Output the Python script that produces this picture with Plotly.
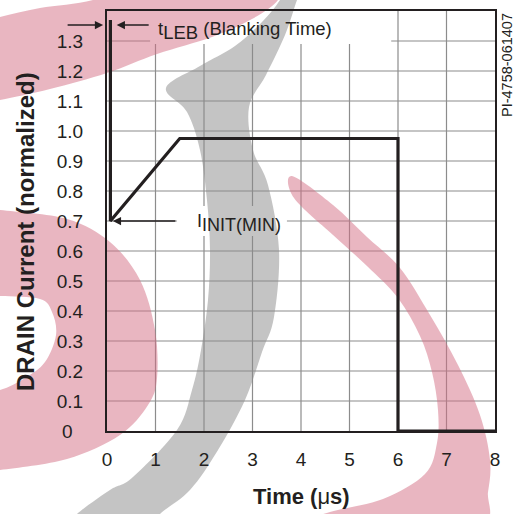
import plotly.graph_objects as go

# ---------------- data ----------------
time_us = [0.07, 0.07, 1.5, 6.0, 6.0, 8.0]
drain_norm = [1.37, 0.70, 0.975, 0.975, 0.0, 0.0]

x_ticks = [0, 1, 2, 3, 4, 5, 6, 7, 8]
x_tick_labels = ["0", "1", "2", "3", "4", "5", "6", "7", "8"]
y_ticks = [0, 0.1, 0.2, 0.3, 0.4, 0.5, 0.6, 0.7, 0.8, 0.9, 1.0, 1.1, 1.2, 1.3]
y_tick_labels = ["0", "0.1", "0.2", "0.3", "0.4", "0.5", "0.6", "0.7", "0.8",
                 "0.9", "1.0", "1.1", "1.2", "1.3"]

t_leb_start = 0.0
t_leb_end = 0.07
i_init_min = 0.70

X_RANGE = [0, 8]
Y_RANGE = [0, 1.4]

# ---------------- layout geometry ----------------
W, H = 514, 514
ML, MR, MT, MB = 107, 19, 11, 83
PW = W - ML - MR
PH = H - MT - MB

FONT = "Liberation Sans, Arial, Helvetica, sans-serif"
INK = "#231f20"
GRID = "#8c8c8c"


def to_paper(pts):
    return [((x - ML) / PW, (MT + PH - y) / PH) for x, y in pts]


def smooth_path(pts):
    p = to_paper(pts)
    n = len(p)
    s = "M %.4f %.4f" % p[0]
    for i in range(n):
        p0, p1, p2, p3 = p[i - 1], p[i], p[(i + 1) % n], p[(i + 2) % n]
        c1 = (p1[0] + (p2[0] - p0[0]) / 6, p1[1] + (p2[1] - p0[1]) / 6)
        c2 = (p2[0] - (p3[0] - p1[0]) / 6, p2[1] - (p3[1] - p1[1]) / 6)
        s += " C %.4f %.4f %.4f %.4f %.4f %.4f" % (c1 + c2 + p2)
    return s + " Z"


def px_(x):
    return (x - X_RANGE[0]) / (X_RANGE[1] - X_RANGE[0])


def py_(y):
    return (y - Y_RANGE[0]) / (Y_RANGE[1] - Y_RANGE[0])


# watermark outlines (pixel space of the page)
pink_top = [(-30, 25), (0, 17), (40, 8), (93, 0), (140, -20), (280, -20), (278, 0),
            (252, 19), (212, 37), (157, 54), (107, 73), (50, 89), (0, 100), (-30, 106)]
pink_left = [(-30, 207), (0, 210), (67, 219), (110, 242), (140, 280), (155, 330),
             (157, 378), (148, 405), (120, 435), (67, 459), (0, 470), (-30, 472),
             (-30, 392), (0, 390), (25, 378), (45, 362), (56, 335), (52, 312),
             (40, 299), (0, 296), (-30, 296)]
pink_right = [(292, 176), (333, 205), (367, 237), (400, 268), (430, 315), (458, 365),
              (480, 415), (490, 460), (488, 492), (480, 525), (380, 530), (300, 525),
              (330, 512), (383, 499), (425, 474), (437, 443), (438, 410), (432, 372),
              (420, 336), (398, 298), (367, 266), (333, 235), (294, 198)]
gray_band = [(166, 88), (200, 66), (235, 46), (262, 22), (280, 0), (288, -20),
             (305, -20), (297, 0), (285, 35), (266, 75), (249, 107), (253, 150),
             (268, 185), (279, 250), (274, 317), (262, 352), (245, 400), (218, 450),
             (190, 490), (160, 514), (150, 530), (65, 530), (77, 514), (110, 490),
             (133, 477), (177, 430), (192, 390), (201, 350), (208, 300), (210, 250),
             (207, 200), (200, 150), (187, 112)]

fig = go.Figure()

fig.add_trace(go.Scatter(
    x=time_us, y=drain_norm, mode="lines",
    line=dict(color=INK, width=3.2), hoverinfo="skip", showlegend=False))

shapes = []
# grid (all paper-referenced so stacking with the watermark is deterministic)
for v in x_ticks:
    if X_RANGE[0] < v < X_RANGE[1]:
        shapes.append(dict(type="line", xref="paper", yref="paper", x0=px_(v), x1=px_(v),
                           y0=0, y1=1, line=dict(color=GRID, width=1.2), layer="below"))
for v in y_ticks:
    if Y_RANGE[0] < v < Y_RANGE[1]:
        shapes.append(dict(type="line", xref="paper", yref="paper", x0=0, x1=1,
                           y0=py_(v), y1=py_(v), line=dict(color=GRID, width=1.2),
                           layer="below"))
# white label backgrounds
shapes += [
    dict(type="rect", xref="paper", yref="paper", x0=px_(0.89), x1=px_(5.86),
         y0=py_(1.29), y1=py_(1.4), fillcolor="white", line=dict(width=0), layer="below"),
    dict(type="rect", xref="paper", yref="paper", x0=px_(1.44), x1=px_(3.71),
         y0=py_(0.65), y1=py_(0.75), fillcolor="white", line=dict(width=0), layer="below"),
]
# watermark
for pts, col in [(pink_top, "rgb(211,109,131)"), (pink_left, "rgb(211,109,131)"),
                 (pink_right, "rgb(211,109,131)"), (gray_band, "rgb(137,137,137)")]:
    shapes.append(dict(type="path", xref="paper", yref="paper", path=smooth_path(pts),
                       fillcolor=col, opacity=0.5, line=dict(width=0), layer="below"))

annotations = [
    # labels
    dict(xref="x", yref="y", x=1.0, y=1.335, showarrow=False, xanchor="left",
         yanchor="middle",
         text="t<sub><span style='font-size:18.5px'>LEB</span></sub> (Blanking Time)",
         font=dict(family=FONT, size=18.5, color=INK)),
    dict(xref="x", yref="y", x=1.82, y=0.695, showarrow=False, xanchor="left",
         yanchor="middle",
         text="I<sub><span style='font-size:18px'>INIT(MIN)</span></sub>",
         font=dict(family=FONT, size=18, color=INK)),
    # blanking arrows
    dict(xref="paper", yref="y", x=px_(t_leb_start - 0.08), y=1.353,
         axref="pixel", ayref="pixel", ax=-37, ay=0,
         showarrow=True, arrowhead=2, arrowsize=1.1, arrowwidth=1.5, arrowcolor=INK, text=""),
    dict(xref="x", yref="y", x=t_leb_end + 0.13, y=1.353, axref="x", ayref="y",
         ax=0.89, ay=1.353, showarrow=True, arrowhead=2, arrowsize=1.1, arrowwidth=1.5,
         arrowcolor=INK, text=""),
    dict(xref="x", yref="y", x=t_leb_end + 0.05, y=i_init_min, axref="x", ayref="y",
         ax=1.44, ay=i_init_min, showarrow=True, arrowhead=2, arrowsize=1.1,
         arrowwidth=1.5, arrowcolor=INK, text=""),
    # titles
    dict(xref="paper", yref="paper", x=0.5, y=(MT + PH - 497) / PH, showarrow=False,
         text="<b>Time (</b>μ<b>s)</b>", font=dict(family=FONT, size=22, color=INK),
         xanchor="center", yanchor="middle"),
    dict(xref="paper", yref="paper", x=(25 - ML) / PW, y=(MT + PH - 232) / PH,
         showarrow=False, textangle=-90, text="<b>DRAIN Current (normalized)</b>",
         font=dict(family=FONT, size=24, color=INK), xanchor="center", yanchor="middle"),
    dict(xref="paper", yref="paper", x=(507 - ML) / PW, y=(MT + PH - 65) / PH,
         showarrow=False, textangle=-90, text="PI-4758-061407",
         font=dict(family=FONT, size=14.5, color=INK), xanchor="center", yanchor="middle"),
]

y_text = [t + "\u00a0\u00a0" if t == "0" else t for t in y_tick_labels]

fig.update_layout(
    width=W, height=H, autosize=False,
    margin=dict(l=ML, r=MR, t=MT, b=MB, pad=0, autoexpand=False),
    paper_bgcolor="white", plot_bgcolor="rgba(0,0,0,0)",
    font=dict(family=FONT, size=19, color=INK),
    showlegend=False,
    shapes=shapes, annotations=annotations,
    xaxis=dict(range=X_RANGE, tickvals=x_ticks, ticktext=x_tick_labels, automargin=False,
               showgrid=False, zeroline=False,
               showline=True, mirror=True, linecolor=INK, linewidth=2,
               ticks="", ticklabelstandoff=10, tickfont=dict(size=19, color=INK)),
    yaxis=dict(range=Y_RANGE, tickvals=y_ticks, ticktext=y_text, automargin=False,
               showgrid=False, zeroline=False,
               showline=True, mirror=True, linecolor=INK, linewidth=2,
               ticks="", ticklabelstandoff=18, tickfont=dict(size=19, color=INK)),
)

fig.write_html("out.html", config={"displayModeBar": False},
               post_script="document.body.style.margin='0';document.body.style.padding='0';")
